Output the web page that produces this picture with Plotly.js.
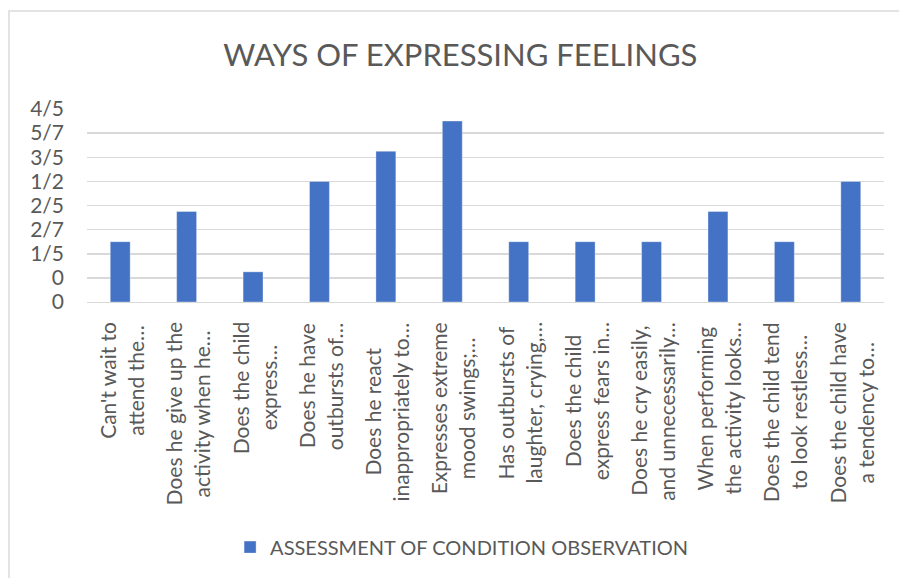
<!DOCTYPE html>
<html>
<head>
<meta charset="utf-8">
<script src="https://cdn.plot.ly/plotly-3.0.1.min.js"></script>
<style>
  html, body { margin: 0; padding: 0; background: #fff; }
  #wrap { position: relative; width: 899px; height: 578px; }
  #chart { width: 899px; height: 578px; }
  #frame { position: absolute; left: 8px; top: 10px; right: 0; bottom: 0;
           border-left: 2px solid #e3e3e3; border-top: 2px solid #e3e3e3; pointer-events: none; }
</style>
</head>
<body>
<div id="wrap">
  <div id="chart"></div>
  <div id="frame"></div>
</div>
<script>
const categories = [
  "Can't wait to<br>attend the…",
  "Does he give up the<br>activity when he…",
  "Does the child<br>express…",
  "Does he have<br>outbursts of…",
  "Does he react<br>inappropriately to…",
  "Expresses extreme<br>mood swings;…",
  "Has outbursts of<br>laughter, crying,…",
  "Does the child<br>express fears in…",
  "Does he cry easily,<br>and unnecessarily…",
  "When performing<br>the activity looks…",
  "Does the child tend<br>to look restless…",
  "Does the child have<br>a tendency to…"
];
const values = [0.25, 0.375, 0.125, 0.5, 0.625, 0.75, 0.25, 0.25, 0.25, 0.375, 0.25, 0.5];
const tickValues = [0, 0.1, 0.2, 0.3, 0.4, 0.5, 0.6, 0.7, 0.8];
const tickLabels = ["0", "0", "1/5", "2/7", "2/5", "1/2", "3/5", "5/7", "4/5"];
const seriesName = "ASSESSMENT OF CONDITION OBSERVATION";
const chartTitle = "WAYS OF EXPRESSING FEELINGS";

const font = "Lato, 'Open Sans', sans-serif";
const grey = "#595959";
const labelSize = 21;

const xIdx = categories.map((_, i) => i);

const trace = {
  type: "bar",
  x: xIdx,
  y: values,
  name: seriesName,
  marker: { color: "#4472C4", line: { color: "rgba(255,255,255,0.35)", width: 1 } },
  showlegend: true,
  hoverinfo: "y"
};

// measure text so that wrapped lines are centred on each other (Excel style)
const ctx = document.createElement("canvas").getContext("2d");
ctx.font = labelSize + "px Lato";
const annotations = [];
categories.forEach((c, i) => {
  const lines = c.split("<br>");
  const widths = lines.map(l => ctx.measureText(l).width);
  const maxW = Math.max.apply(null, widths);
  lines.forEach((l, j) => {
    annotations.push({
      x: i, y: 0, xref: "x", yref: "paper",
      text: l, textangle: -90, showarrow: false,
      xanchor: "center", yanchor: "middle",
      xshift: (j - (lines.length - 1) / 2) * 28 + 1,
      yshift: -(20 + maxW / 2),
      font: { family: font, size: labelSize, color: grey }
    });
  });
});

const layout = {
  width: 899, height: 578,
  margin: { l: 87, r: 15, t: 109, b: 276 },
  paper_bgcolor: "rgba(0,0,0,0)",
  plot_bgcolor: "#fff",
  title: { text: chartTitle, x: 0.512, xanchor: "center", y: 0.905, yanchor: "middle",
           font: { family: font, size: 31, color: grey } },
  bargap: 0.7,
  xaxis: {
    range: [-0.5, categories.length - 0.5],
    showticklabels: false, showgrid: false, zeroline: false,
    showline: true, linecolor: "#d9d9d9", linewidth: 1, ticks: "", fixedrange: true
  },
  yaxis: {
    range: [0, 0.8],
    tickvals: tickValues, ticktext: tickLabels,
    tickfont: { family: font, size: 21, color: grey },
    showgrid: true, gridcolor: "#d9d9d9", gridwidth: 1.5,
    zeroline: false, showline: false, ticks: "", ticklabelstandoff: 22, fixedrange: true
  },
  legend: {
    orientation: "h", x: 0.47, xanchor: "center", y: -1.27, yanchor: "middle",
    font: { family: font, size: 20, color: grey }, itemwidth: 30
  },
  annotations: annotations
};

Plotly.newPlot("chart", [trace], layout, { displayModeBar: false, staticPlot: true });
</script>
</body>
</html>
